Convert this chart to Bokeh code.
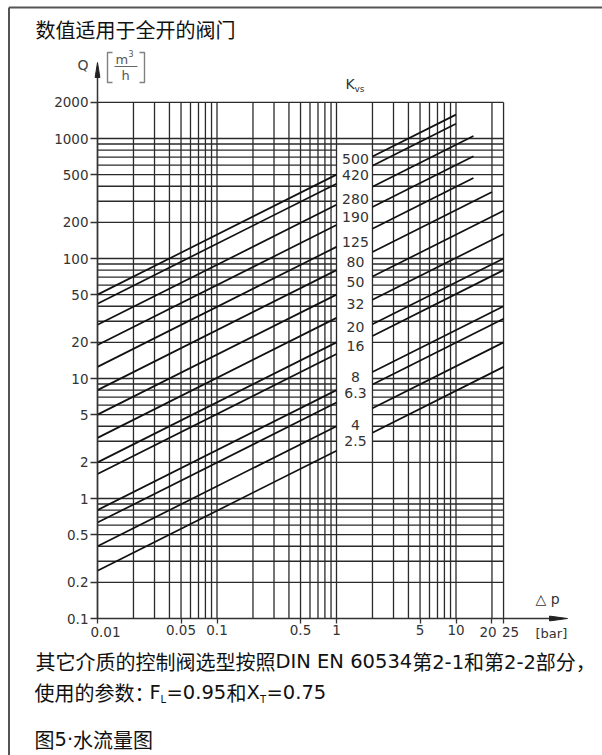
from bokeh.plotting import figure
from bokeh.models import Range1d, FixedTicker, ColumnDataSource
from bokeh.core.properties import value
from bokeh.embed import file_html
from bokeh.resources import INLINE

# ---------------- data ----------------
kvs = [500, 420, 280, 190, 125, 80, 50, 32, 20, 16, 8, 6.3, 4, 2.5]
kvs_labels = ["500", "420", "280", "190", "125", "80", "50", "32", "20", "16", "8", "6.3", "4", "2.5"]
dp_end = [10, 10, 14, 14, 14, 20, 25, 25, 25, 25, 25, 25, 25, 25]
label_q = [679, 493, 315, 221, 137, 93, 63.5, 42, 26.8, 18.6, 10.3, 7.6, 4.06, 2.99]
label_dp = 1.44
dp_left = [0.01, 1]
dp_right_start = 2
band = dict(left=1, right=2, bottom=2.1, top=850)

x_ticks = [0.01, 0.05, 0.1, 0.5, 1, 5, 10, 20, 25]
x_tick_labels = ["", "0.05", "0.1", "0.5", "1", "5", "10", "", ""]
y_ticks = [0.1, 0.2, 0.5, 1, 2, 5, 10, 20, 50, 100, 200, 500, 1000, 2000]
y_tick_labels = ["0.1", "0.2", "0.5", "1", "2", "5", "10", "20", "50", "100", "200", "500", "1000", "2000"]

x_grid = [0.01, 0.02, 0.03, 0.04, 0.05, 0.06, 0.07, 0.08, 0.09,
          0.1, 0.2, 0.3, 0.4, 0.5, 0.6, 0.7, 0.8, 0.9,
          1, 2, 3, 4, 5, 6, 7, 8, 9, 10, 20, 25]
y_grid = [0.2, 0.3, 0.4, 0.5, 0.6, 0.7, 0.8, 0.9,
          1, 2, 3, 4, 5, 6, 7, 8, 9,
          10, 20, 30, 40, 50, 60, 70, 80, 90,
          100, 200, 300, 400, 500, 600, 700, 800, 900,
          1000, 2000]

CJK = "Noto Sans CJK SC"
LAT = "DejaVu Sans"
GRID = "#2a2a2a"

# ---------------- geometry (canvas pixels) ----------------
W, H = 602, 755
SX, SY = 119.5, 120.0          # pixels per decade
X0PX, Y0PX = 97, 618           # canvas position of dp=0.01 and Q=0.1


def dx(px):
    return x_grid[0] * 10 ** ((px - X0PX) / SX)


def dy(py):
    return y_ticks[0] * 10 ** ((Y0PX - py) / SY)


p = figure(width=W, height=H, x_axis_type="log", y_axis_type="log",
           x_range=Range1d(dx(0), dx(W)), y_range=Range1d(dy(H), dy(0)),
           output_backend="svg", toolbar_location=None, title=None,
           min_border_left=0, min_border_right=0, min_border_top=0, min_border_bottom=0)
p.outline_line_color = None
p.xgrid.visible = False
p.ygrid.visible = False
p.background_fill_color = "white"
p.border_fill_color = "white"

X_LO, X_HI = x_grid[0], x_grid[-1]
Y_LO, Y_HI = y_ticks[0], y_grid[-1]

# horizontal grid
p.segment(x0=[X_LO] * len(y_grid), x1=[X_HI] * len(y_grid), y0=y_grid, y1=y_grid,
          line_color=GRID, line_width=1.3)
# white band for the Kvs labels
p.quad(left=[band["left"]], right=[band["right"]], bottom=[band["bottom"]], top=[band["top"]],
       fill_color="white", line_color=None)
# vertical grid
p.segment(x0=x_grid, x1=x_grid, y0=[Y_LO] * len(x_grid), y1=[Y_HI] * len(x_grid),
          line_color=GRID, line_width=1.3)

# flow lines Q = Kvs * sqrt(dp)
xs, ys = [], []
for k, de in zip(kvs, dp_end):
    xs.append(dp_left)
    ys.append([k * d ** 0.5 for d in dp_left])
    xs.append([dp_right_start, de])
    ys.append([k * dp_right_start ** 0.5, k * de ** 0.5])
p.multi_line(xs=xs, ys=ys, line_color="#111111", line_width=1.7)

src = ColumnDataSource(dict(x=[label_dp] * len(kvs), y=label_q, t=kvs_labels))
p.text(x="x", y="y", text="t", source=src, text_align="center", text_baseline="middle",
       text_font=value(LAT), text_font_size="14px", text_color="#333333")

# axes drawn at fixed data locations
p.yaxis.fixed_location = X_LO
p.xaxis.fixed_location = Y_LO
for ax, ticks, labels in ((p.xaxis, x_ticks, x_tick_labels), (p.yaxis, y_ticks, y_tick_labels)):
    ax.ticker = FixedTicker(ticks=ticks, minor_ticks=[])
    ax.major_label_overrides = {t: l for t, l in zip(ticks, labels)}
    ax.axis_line_color = None
    ax.major_tick_line_color = "#333333"
    ax.major_tick_line_width = 1.3
    ax.major_tick_in = 0
    ax.minor_tick_in = 0
    ax.minor_tick_out = 0
    ax.major_label_text_font = LAT
    ax.major_label_text_font_size = "13.5px"
    ax.major_label_text_color = "#333333"
p.xaxis.major_tick_out = 5
p.xaxis.major_label_standoff = 1
p.yaxis.major_tick_out = 7
p.yaxis.major_label_standoff = 2

# axis lines with arrows
p.segment(x0=[X_LO, X_LO], y0=[Y_LO, Y_LO], x1=[X_LO, dx(556)], y1=[dy(72), Y_LO],
          line_color="#333333", line_width=1.5)
p.patches(xs=[[dx(97), dx(94.6), dx(99.4)], [dx(567), dx(549), dx(549)]],
          ys=[[dy(62), dy(77), dy(77)], [dy(618), dy(615.6), dy(620.4)]],
          fill_color="#222222", line_color="#222222", line_width=1)

# page frame border, unit brackets, fraction bar
BR = "#808080"
lines_px = [
    ([8.5, 8.5], [7, 760], "#555555", 2),
    ([8.5, 610], [7, 7], "#555555", 2),
    ([112, 107, 107, 112], [52, 52, 82, 82], BR, 1.4),
    ([139, 144, 144, 139], [52, 52, 82, 82], BR, 1.4),
    ([114, 137], [66, 66], "#666666", 1.2),
]
p.multi_line(xs=[[dx(v) for v in a] for a, _, _, _ in lines_px],
             ys=[[dy(v) for v in b] for _, b, _, _ in lines_px],
             line_color=[c for _, _, c, _ in lines_px], line_width=[w for _, _, _, w in lines_px])

# ---------------- texts (canvas positions) ----------------
FS = 20
FL = 19.5
INK = "#111111"
texts = [
    ("Q", 77, 64, 14, LAT, "#444444", "left"),
    ("m", 115, 59, 13, LAT, "#555555", "left"),
    ("3", 128, 53, 8, LAT, "#555555", "left"),
    ("h", 121, 75, 13, LAT, "#555555", "left"),
    ("K", 345, 83, 14, LAT, "#333333", "left"),
    ("vs", 354, 88, 9, LAT, "#333333", "left"),
    ("0.01", 105, 631, 13.5, LAT, "#333333", "center"),
    ("20", 487.5, 631, 13.5, LAT, "#333333", "center"),
    ("25", 510, 631, 13.5, LAT, "#333333", "center"),
    ("△ p", 535, 598, 14, LAT, "#333333", "left"),
    ("[bar]", 535, 633, 13, LAT, "#333333", "left"),
    ("数值适用于全开的阀门", 35, 29, FS, CJK, INK, "left"),
    ("其它介质的控制阀选型按照", 35, 661, FS, CJK, INK, "left"),
    ("DIN EN 60534", 275, 661, FL, LAT, INK, "left"),
    ("第", 411.7, 661, FS, CJK, INK, "left"),
    ("2-1", 431.7, 661, FL, LAT, INK, "left"),
    ("和第", 463.5, 661, FS, CJK, INK, "left"),
    ("2-2", 503.5, 661, FL, LAT, INK, "left"),
    ("部分，", 535.3, 661, FS, CJK, INK, "left"),
    ("使用的参数：", 34, 692, FS, CJK, INK, "left"),
    ("F", 149, 692, FL, LAT, INK, "left"),
    ("L", 160, 699, 10, LAT, INK, "left"),
    ("=0.95", 166, 692, FL, LAT, INK, "left"),
    ("和", 226, 692, FS, CJK, INK, "left"),
    ("X", 246, 692, FL, LAT, INK, "left"),
    ("T", 259.5, 699, 10, LAT, INK, "left"),
    ("=0.75", 266, 692, FL, LAT, INK, "left"),
    ("图", 34, 739, FS, CJK, INK, "left"),
    ("5·", 54, 739, FL, LAT, INK, "left"),
    ("水流量图", 72.5, 739, FS, CJK, INK, "left"),
]
for align in ("left", "center"):
    sel = [t for t in texts if t[6] == align]
    tsrc = ColumnDataSource(dict(
        x=[dx(t[1]) for t in sel], y=[dy(t[2]) for t in sel], t=[t[0] for t in sel],
        size=[f"{t[3]}px" for t in sel], font=[t[4] for t in sel], color=[t[5] for t in sel]))
    p.text(x="x", y="y", text="t", source=tsrc, text_align=align, text_baseline="middle",
           text_font="font", text_font_size="size", text_color="color")

open("out.html", "w").write(file_html(p, INLINE))
